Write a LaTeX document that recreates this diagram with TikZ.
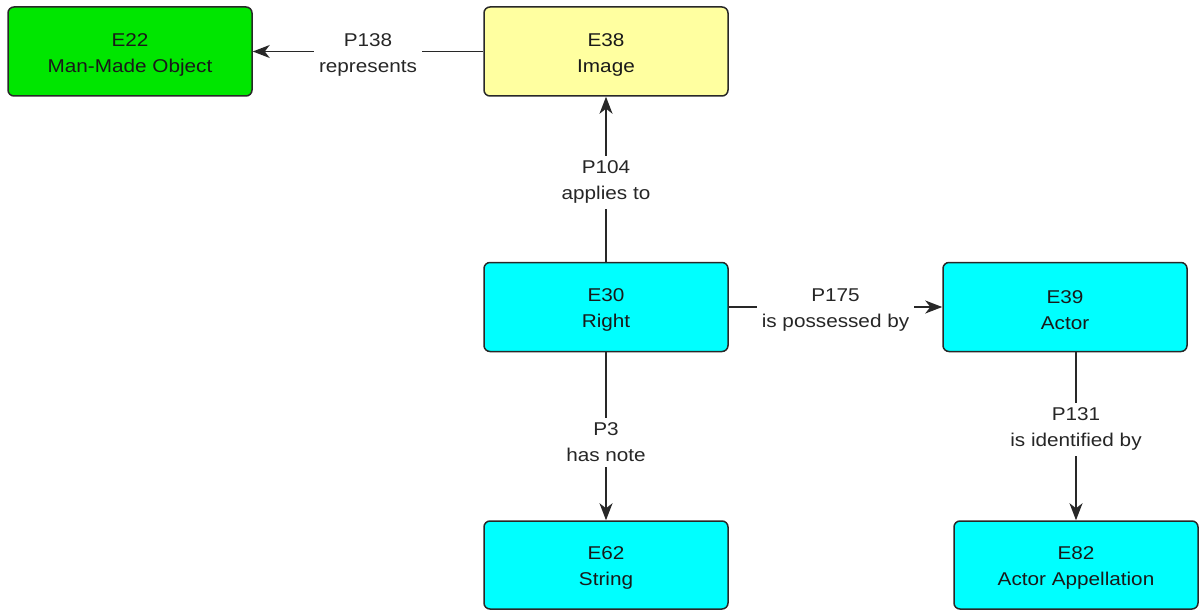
\documentclass[tikz,border=0pt]{standalone}
\usepackage{fontspec}
\setmainfont{Liberation Sans}[FakeStretch=1.12]
\usetikzlibrary{arrows.meta}
\definecolor{egreen}{RGB}{0,230,0}
\definecolor{eyellow}{RGB}{255,255,160}
\definecolor{ecyan}{RGB}{0,255,255}
\definecolor{edge}{RGB}{40,40,40}
\tikzset{
  ent/.style={draw=edge, line width=1.5pt, rounded corners=6pt, minimum width=244pt,
    minimum height=89pt, inner sep=0pt},
  enttext/.style={align=center, yshift=-3pt, inner sep=0pt,
    font=\fontsize{18.5}{26}\selectfont, text=black!90},
  rel/.style={draw=edge, line width=1.5pt, -{Stealth[length=17pt,width=13pt,inset=5pt]}},
  lbl/.style={fill=white, align=center, inner sep=5pt, yshift=-3pt,
    font=\fontsize{18.5}{26}\selectfont, text=black!85}
}
\begin{document}
\begin{tikzpicture}[x=1pt,y=-1pt]
\useasboundingbox (0,0) rectangle (1200,610);
\node[ent, fill=egreen, label={[enttext]center:E22\\Man-Made Object}]  (e22) at (130,51.5) {};
\node[ent, fill=eyellow, label={[enttext]center:E38\\Image}] (e38) at (606,51.5) {};
\node[ent, fill=ecyan, label={[enttext]center:E30\\Right}] (e30) at (606,307) {};
\node[ent, fill=ecyan, label={[enttext]center:E39\\Actor}] (e39) at (1065,307) {};
\node[ent, fill=ecyan, minimum height=88pt, label={[enttext]center:E62\\String}] (e62) at (606,565) {};
\node[ent, fill=ecyan, minimum height=88pt, label={[enttext]center:E82\\Actor Appellation}] (e82) at (1076,565) {};

\draw[rel] (e38.west) -- node[lbl] {P138\\represents} (e22.east);
\draw[rel] (e30.north) -- node[lbl] {P104\\applies to} (e38.south);
\draw[rel] (e30.east) -- node[lbl] {P175\\is possessed by} (e39.west);
\draw[rel] (e30.south) -- node[lbl, pos=0.52] {P3\\has note} (e62.north);
\draw[rel] (e82.north |- e39.south) -- node[lbl, pos=0.44] {P131\\is identified by} (e82.north);
\end{tikzpicture}
\end{document}
